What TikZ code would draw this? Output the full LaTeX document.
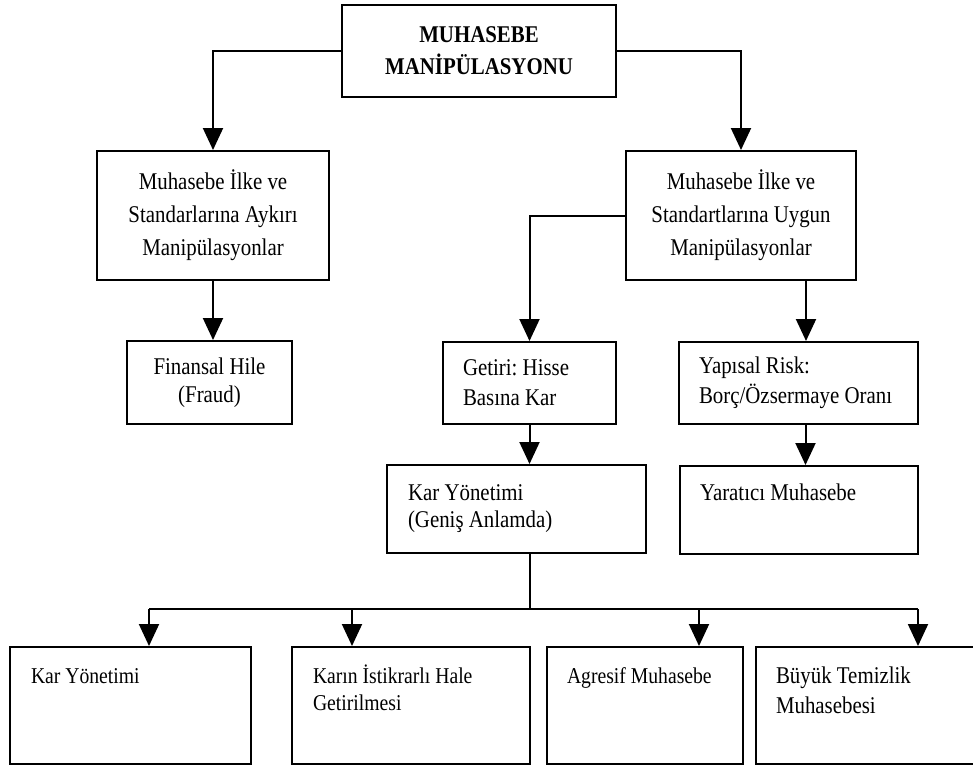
\documentclass[tikz,border=0pt]{standalone}
\usepackage{fontspec}
\setmainfont[FakeStretch=0.87]{Liberation Serif}
\usetikzlibrary{arrows.meta}
\begin{document}
\frenchspacing
\begin{tikzpicture}[x=1pt,y=-1pt,
  box/.style={draw, line width=2pt, inner sep=0pt, align=center},
  lbox/.style={draw, line width=2pt, inner ysep=0pt, align=flush left},
  tbox/.style={draw, line width=2pt, inner ysep=0pt, anchor=north west},
  arr/.style={-{Triangle[length=22pt,width=20pt]}, line width=2pt},
  con/.style={line width=2pt}]
\useasboundingbox (0,0) rectangle (973,769);

\node[box, minimum width=274pt, minimum height=92pt, font=\fontsize{24}{32}\selectfont\bfseries] (T) at (479,51) {MUHASEBE\\MANİPÜLASYONU};

\node[box, minimum width=232pt, minimum height=129pt, font=\fontsize{24}{33}\selectfont] (A) at (213,215.5) {Muhasebe İlke ve\\Standarlarına Aykırı\\Manipülasyonlar};
\node[box, minimum width=230pt, minimum height=129pt, font=\fontsize{24}{33}\selectfont] (B) at (741,215.5) {Muhasebe İlke ve\\Standartlarına Uygun\\Manipülasyonlar};

\node[box, minimum width=165pt, minimum height=83pt, font=\fontsize{24}{28}\selectfont] (F) at (209.5,382.5) {Finansal Hile\\(Fraud)};

\node[lbox, inner xsep=20pt, text width=133pt, minimum height=82pt, font=\fontsize{24}{30}\selectfont] (G) at (529.5,383) {Getiri: Hisse\\Basına Kar};
\node[lbox, inner xsep=20pt, text width=199pt, minimum height=82pt, font=\fontsize{24}{30}\selectfont] (Y) at (798.5,383) {Yapısal Risk:\\Borç/Özsermaye Oranı};

\node[lbox, inner xsep=21pt, text width=217pt, minimum height=88pt, font=\fontsize{24}{27}\selectfont] (K) at (516.5,509) {Kar Yönetimi\\(Geniş Anlamda)};
\node[tbox, inner xsep=20pt, font=\fontsize{24}{30}\selectfont] (R) at (679,465) {\parbox[c][88pt][t]{198pt}{\raggedright\rule{0pt}{34pt}Yaratıcı Muhasebe}};

\node[tbox, inner xsep=21pt, font=\fontsize{22.6}{27}\selectfont] (b1) at (9,646) {\parbox[c][117pt][t]{199pt}{\raggedright\rule{0pt}{36pt}Kar Yönetimi}};
\node[tbox, inner xsep=21pt, font=\fontsize{22.6}{27}\selectfont] (b2) at (291,646) {\parbox[c][117pt][t]{196pt}{\raggedright\rule{0pt}{36pt}Karın İstikrarlı Hale\\Getirilmesi}};
\node[tbox, inner xsep=20pt, font=\fontsize{22.6}{27}\selectfont] (b3) at (546,646) {\parbox[c][117pt][t]{156pt}{\raggedright\rule{0pt}{36pt}Agresif Muhasebe}};
\node[tbox, inner xsep=20pt, font=\fontsize{24}{30}\selectfont] (b4) at (755,646) {\parbox[c][117pt][t]{195pt}{\raggedright\rule{0pt}{36pt}Büyük Temizlik\\Muhasebesi}};

% connectors
\draw[arr] (T.west) -| (A.north);
\draw[arr] (T.east) -| (B.north);
\draw[arr] (A.south) -- (A.south |- F.north);
\draw[arr] (B.west) -| (G.north);
\coordinate (by) at ([xshift=65pt]B.south);
\draw[arr] (by) -- (by |- Y.north);
\draw[arr] (G.south) -- (G.south |- K.north);
\coordinate (yr) at ([xshift=7pt]Y.south);
\draw[arr] (yr) -- (yr |- R.north);

\coordinate (j1) at (149,609);
\coordinate (j2) at (352,609);
\coordinate (j3) at (699,609);
\coordinate (j4) at (918,609);
\coordinate (ks) at (G.south |- K.south);
\coordinate (bus) at (G.south |- j1);
\draw[con] (ks) -- (bus);
\draw[con] (j1) -- (j4);
\draw[arr] (j1) -- (j1 |- b1.north);
\draw[arr] (j2) -- (j2 |- b2.north);
\draw[arr] (j3) -- (j3 |- b3.north);
\draw[arr] (j4) -- (j4 |- b4.north);
\end{tikzpicture}
\end{document}
